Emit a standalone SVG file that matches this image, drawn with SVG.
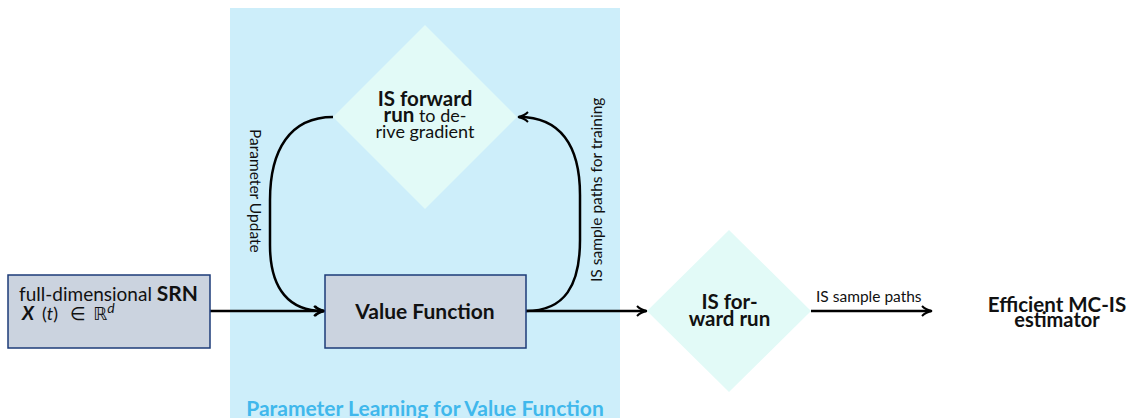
<svg xmlns="http://www.w3.org/2000/svg" width="1131" height="418" viewBox="0 0 1131 418">
<defs>
<style>
text{font-family:Lato,"Open Sans","DejaVu Sans",sans-serif;fill:#111;}
.b{font-weight:bold;}
.box{fill:#cbd3df;stroke:#1c3b78;stroke-width:1.5;}
.dia{fill:#e2faf7;}
.ln{fill:none;stroke:#000;stroke-width:2.5;}
.lbl{font-size:15.5px;}
</style>
<marker id="ah" viewBox="0 0 12 12" refX="10" refY="6" markerWidth="12" markerHeight="12" markerUnits="userSpaceOnUse" orient="auto">
<path d="M1,1 Q5,5 11,6 Q5,7 1,11" fill="none" stroke="#000" stroke-width="2"/>
</marker>
</defs>
<rect width="1131" height="418" fill="#fff"/>
<g id="group-bg">
<rect x="230" y="8" width="390" height="420" fill="#cdeefa"/>
<text x="425" y="416" text-anchor="middle" class="b" font-size="21" style="fill:#40b8ec">Parameter Learning for Value Function</text>
</g>
<g id="connectors">
<line class="ln" x1="210" y1="311" x2="324" y2="311" marker-end="url(#ah)"/>
<line class="ln" x1="526" y1="311" x2="646" y2="311" marker-end="url(#ah)"/>
<line class="ln" x1="811" y1="311" x2="931" y2="311" marker-end="url(#ah)"/>
<path class="ln" d="M333,117 C290,117 270,150 270,200 L270,245 C270,290 290,311 323,311" marker-end="url(#ah)"/>
<path class="ln" d="M526,311 C565,311 580,285 580,240 L580,195 C580,145 560,117 519,117" marker-end="url(#ah)"/>
<text class="lbl" transform="translate(250,129) rotate(90)">Parameter Update</text>
<text class="lbl" transform="translate(602,282) rotate(-90)">IS sample paths for training</text>
<text class="lbl" x="816" y="302">IS sample paths</text>
</g>
<g id="node-srn">
<rect class="box" x="8" y="275" width="202" height="73"/>
<text x="108.5" y="301" text-anchor="middle" font-size="19">full-dimensional <tspan class="b" font-size="21">SRN</tspan></text>
<text y="320" font-size="18"><tspan x="22" class="b" font-style="italic" font-size="19">X</tspan><tspan x="42">(</tspan><tspan font-style="italic">t</tspan><tspan>)</tspan><tspan x="70">∈</tspan><tspan x="93">ℝ</tspan><tspan font-style="italic" dy="-7" font-size="14">d</tspan></text>
</g>
<g id="node-value">
<rect class="box" x="325" y="275" width="201" height="73"/>
<text x="425" y="319" text-anchor="middle" class="b" font-size="21">Value Function</text>
</g>
<g id="node-is-train">
<polygon class="dia" points="425,25 517,117 425,209 333,117"/>
<text x="425" y="106" text-anchor="middle" class="b" font-size="20.5">IS forward</text>
<text x="425" y="122" text-anchor="middle" font-size="18"><tspan class="b" font-size="20.5">run</tspan> to de-</text>
<text x="425" y="138" text-anchor="middle" font-size="18">rive gradient</text>
</g>
<g id="node-is-run">
<polygon class="dia" points="729,230 811,311 729,392 647,311"/>
<text x="729.5" y="309" text-anchor="middle" class="b" font-size="20.5">IS for-</text>
<text x="729.5" y="326" text-anchor="middle" class="b" font-size="20.5">ward run</text>
</g>
<g id="node-estimator">
<text x="1057" y="312" text-anchor="middle" class="b" font-size="20.5">Efficient MC-IS</text>
<text x="1057" y="327" text-anchor="middle" class="b" font-size="20">estimator</text>
</g>
</svg>
